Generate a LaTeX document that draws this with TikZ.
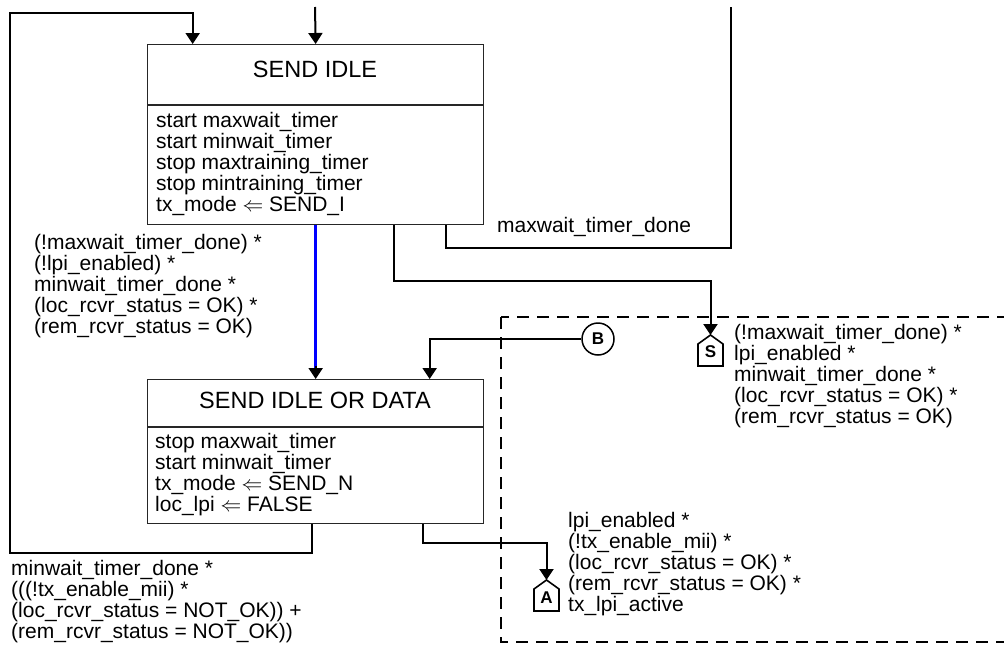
\documentclass[tikz,border=0pt]{standalone}
\usepackage{fontspec}
\setmainfont{Liberation Sans}
\usetikzlibrary{arrows.meta,calc}
\begin{document}
\begin{tikzpicture}[x=1pt,y=-1pt,
  tip/.style={-{Triangle[length=11pt,width=14pt]}},
  conn/.style={line width=2pt, line join=miter},
  statebox/.style={draw=black!85, line width=1.3pt, inner sep=0pt, minimum width=336pt, anchor=north west},
  body/.style={font=\fontsize{21}{21}\selectfont, align=left, anchor=base west, inner sep=0pt},
  title/.style={font=\fontsize{23.5}{24}\selectfont, inner sep=0pt, anchor=base},
  house/.style={line width=1.6pt, line join=miter},
  letter/.style={inner sep=0pt, font=\bfseries\fontsize{17}{17}\selectfont},
]
\useasboundingbox (0,0) rectangle (1004,645);
\clip (0,0) rectangle (1004,645);

% states
\node[statebox, minimum height=180pt] (idle) at (147,44) {};
\draw[statebox] (147,105) -- (483,105);
\node[title] (idletitle) at (315,77) {SEND IDLE};
\node[body] (idlebody) at (156,211) {start maxwait\_timer\\start minwait\_timer\\stop maxtraining\_timer\\stop mintraining\_timer\\tx\_mode $\Leftarrow$ SEND\_I};

\node[statebox, minimum height=144pt] (data) at (147,379) {};
\draw[statebox] (147,427) -- (483,427);
\node[title] (datatitle) at (315,408) {SEND IDLE OR DATA};
\node[body] (databody) at (155,511) {stop maxwait\_timer\\start minwait\_timer\\tx\_mode $\Leftarrow$ SEND\_N\\loc\_lpi $\Leftarrow$ FALSE};

% off-page connectors
\node[draw, circle, line width=1.5pt, minimum size=32pt, inner sep=0pt, font=\bfseries\fontsize{17}{17}\selectfont] (B) at (598,339) {B};

\node[letter] (S) at (710.5,352) {S};
\draw[house] (698,366) -- (698,344) -- (710.5,335) -- (723,344) -- (723,366) -- cycle;
\coordinate (Stop) at (710.5,335);

\node[letter] (A) at (546.5,598) {A};
\draw[house] (534,611) -- (534,589) -- (546.5,580) -- (559,589) -- (559,611) -- cycle;
\coordinate (Atop) at (546.5,580);

% dashed region
\draw[line width=2pt, dash pattern=on 12pt off 8pt] (501,317) rectangle (1030,642);

% helper coordinates
\coordinate (topin) at (315,7);
\coordinate (loopbl) at (10,553);
\coordinate (looptl) at (10,13);
\coordinate (mwturn) at (731,248);
\coordinate (mwend) at (731,7);
\coordinate (sturn) at (710.5,281);
\coordinate (aturn) at (546.5,543);

% connectors
\draw[conn, tip] (topin) -- (idle.north);
\draw[conn, tip] ([xshift=-4pt]data.south) |- (loopbl) -- (looptl) -| ([xshift=-123pt]idle.north);
\draw[blue, line width=3.2pt] (idle.south) -- ([yshift=6pt]data.north);
\draw[conn, tip] ([yshift=13pt]data.north) -- (data.north);
\draw[conn] ([xshift=130pt]idle.south) |- (mwturn) -- (mwend);
\draw[conn, tip] ([xshift=78pt]idle.south) |- (sturn) -- (Stop);
\draw[conn, tip] (B.west) -| ([xshift=114pt]data.north);
\draw[conn, tip] ([xshift=107pt]data.south) |- (aturn) -- (Atop);

% guards
\node[body] (g1) at (34,333) {(!maxwait\_timer\_done) *\\(!lpi\_enabled) *\\minwait\_timer\_done *\\(loc\_rcvr\_status = OK) *\\(rem\_rcvr\_status = OK)};
\node[body] (g2) at (497,232) {maxwait\_timer\_done};
\node[body] (g3) at (734,423) {(!maxwait\_timer\_done) *\\lpi\_enabled *\\minwait\_timer\_done *\\(loc\_rcvr\_status = OK) *\\(rem\_rcvr\_status = OK)};
\node[body] (g4) at (568,611) {lpi\_enabled *\\(!tx\_enable\_mii) *\\(loc\_rcvr\_status = OK) *\\(rem\_rcvr\_status = OK) *\\tx\_lpi\_active};
\node[body] (g5) at (11,638) {minwait\_timer\_done *\\(((!tx\_enable\_mii) *\\(loc\_rcvr\_status = NOT\_OK)) +\\(rem\_rcvr\_status = NOT\_OK))};
\end{tikzpicture}
\end{document}
